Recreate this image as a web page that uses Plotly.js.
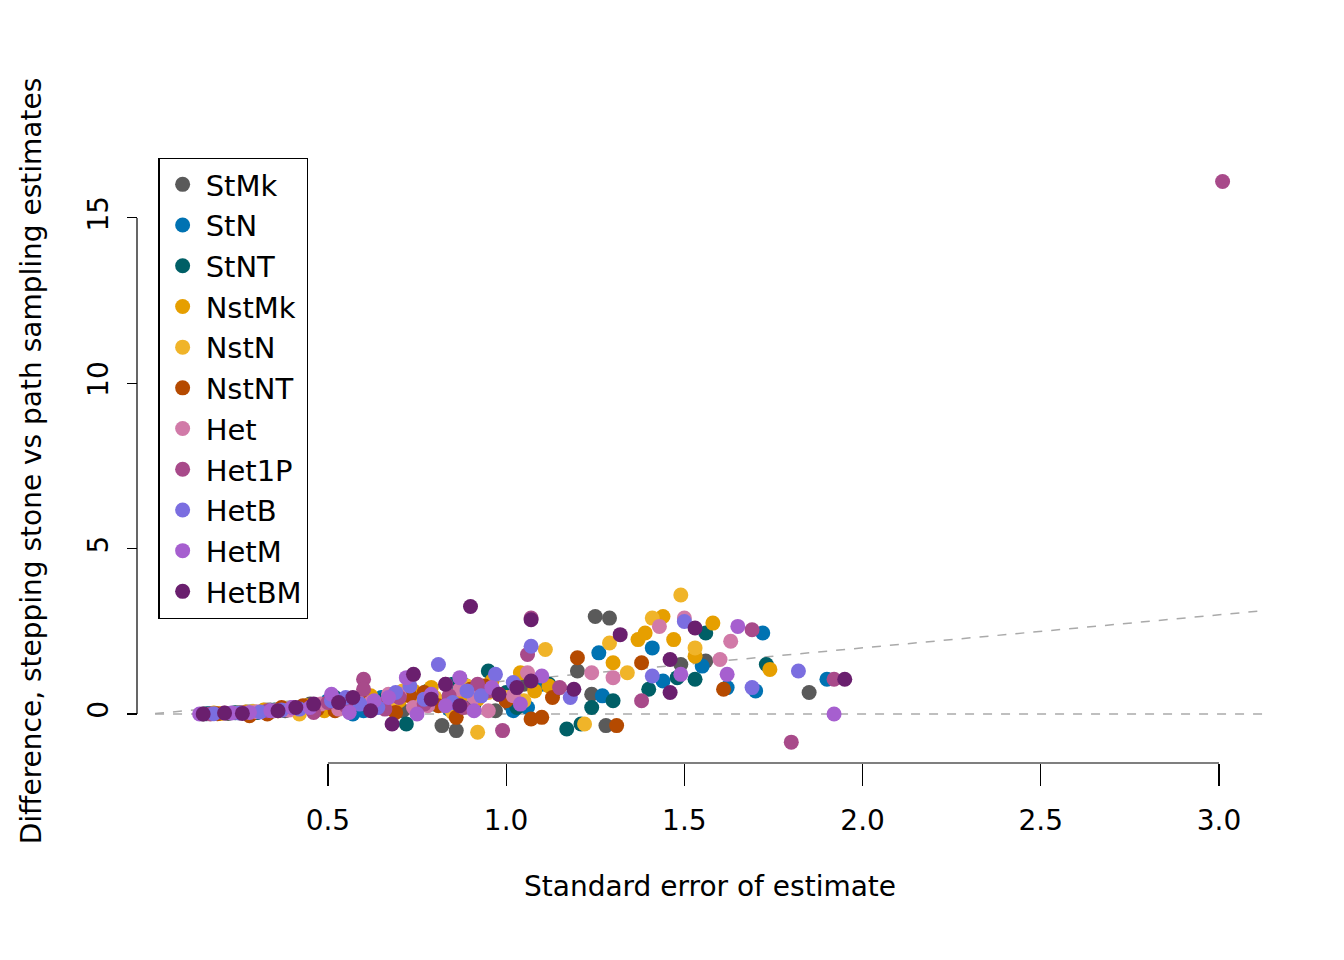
<!DOCTYPE html>
<html>
<head>
<meta charset="utf-8">
<script src="https://cdn.plot.ly/plotly-3.0.1.min.js"></script>
<style>body{margin:0;background:#fff}#plot{width:1344px;height:960px}</style>
</head>
<body>
<div id="plot"></div>
<script>
// model names and colours
const models = ['StMk', 'StN', 'StNT', 'NstMk', 'NstN', 'NstNT', 'Het', 'Het1P', 'HetB', 'HetM', 'HetBM'];
const colors = ['#5a5a5a', '#0072b2', '#005f66', '#e69f00', '#f0b429', '#b54a00', '#d17aa8', '#a84a8a', '#7b6ee0', '#a65fcf', '#6a1f6e'];

// standard error (x) and difference (y) per model
const seX = [
  [0.15, 0.22, 0.3, 0.38, 0.45, 0.52, 0.6, 0.68, 0.75, 0.82, 0.86, 0.9, 0.97, 1.05, 1.2, 1.24, 1.25, 1.28, 1.29, 1.49, 1.56, 1.85, 0.34, 0.48, 0.63, 0.71, 0.79, 0.93, 1.01, 1.14],
  [0.17, 0.25, 0.33, 0.41, 0.5, 0.57, 0.65, 0.72, 0.8, 0.88, 0.93, 1.02, 1.1, 1.26, 1.27, 1.41, 1.44, 1.55, 1.62, 1.7, 1.72, 1.9, 0.29, 0.45, 0.6, 0.76, 0.84, 0.98, 1.06],
  [0.16, 0.24, 0.35, 0.43, 0.52, 0.6, 0.66, 0.72, 0.78, 0.85, 0.95, 1.03, 1.12, 1.17, 1.21, 1.24, 1.3, 1.4, 1.48, 1.53, 1.56, 1.73, 0.3, 0.48, 0.56, 0.69, 0.82, 0.91, 1.0],
  [0.18, 0.27, 0.36, 0.44, 0.53, 0.62, 0.7, 0.79, 0.88, 0.96, 1.04, 1.08, 1.3, 1.37, 1.39, 1.44, 1.47, 1.53, 1.58, 1.74, 0.32, 0.49, 0.66, 0.74, 0.84, 0.92, 1.12],
  [0.2, 0.29, 0.38, 0.46, 0.55, 0.63, 0.71, 0.8, 0.89, 0.92, 1.0, 1.11, 1.22, 1.29, 1.34, 1.41, 1.49, 1.53, 0.25, 0.42, 0.59, 0.68, 0.76, 0.85, 0.95, 1.05],
  [0.19, 0.28, 0.37, 0.47, 0.56, 0.64, 0.73, 0.81, 0.9, 0.98, 1.0, 1.07, 1.1, 1.13, 1.2, 1.31, 1.38, 1.61, 0.33, 0.43, 0.52, 0.6, 0.69, 0.77, 0.86, 0.94],
  [0.21, 0.3, 0.39, 0.48, 0.58, 0.67, 0.74, 0.83, 0.91, 0.95, 1.06, 1.24, 1.3, 1.43, 1.5, 1.6, 1.63, 0.35, 0.53, 0.62, 0.7, 0.78, 0.87, 1.02],
  [0.17, 0.26, 0.4, 0.5, 0.6, 0.6, 0.7, 0.84, 0.92, 0.99, 1.06, 1.07, 1.15, 1.38, 1.69, 1.8, 1.92, 3.01, 0.33, 0.46, 0.55, 0.66, 0.77, 0.88, 0.95],
  [0.18, 0.31, 0.42, 0.51, 0.59, 0.69, 0.77, 0.81, 0.89, 0.97, 1.07, 1.18, 1.41, 1.5, 1.69, 1.82, 0.25, 0.37, 0.55, 0.64, 0.73, 0.85, 0.93, 1.02],
  [0.14, 0.23, 0.34, 0.45, 0.51, 0.63, 0.72, 0.79, 0.87, 0.96, 1.04, 1.1, 1.49, 1.62, 1.65, 1.92, 0.28, 0.4, 0.56, 0.67, 0.75, 0.83, 0.91],
  [0.15, 0.26, 0.36, 0.46, 0.57, 0.68, 0.74, 0.83, 0.9, 0.98, 1.07, 1.07, 1.19, 1.32, 1.46, 1.46, 1.53, 1.95, 0.21, 0.41, 0.53, 0.62, 0.79, 0.87, 1.03]
];
const diffY = [
  [0.0, 0.02, 0.05, 0.1, 0.3, 0.4, 0.2, 0.5, 0.6, -0.35, -0.5, 0.7, 0.1, 0.9, 1.3, 0.6, 2.95, -0.35, 2.9, 1.5, 1.6, 0.65, 0.08, 0.15, 0.35, 0.1, 0.45, 0.85, 0.3, 0.75],
  [0.02, 0.05, 0.1, 0.15, 0.4, 0.0, 0.5, 0.6, 0.3, 0.9, 0.8, 0.1, 0.9, 1.85, 0.55, 2.0, 1.0, 1.45, 0.8, 0.7, 2.45, 1.05, 0.06, 0.2, 0.1, 0.4, 0.15, 0.6, 0.2],
  [0.01, 0.04, 0.12, 0.2, 0.5, 0.3, 0.45, -0.3, 0.7, 0.9, 1.3, 0.2, 0.9, -0.45, -0.3, 0.2, 0.4, 0.75, 1.1, 1.05, 2.45, 1.5, 0.05, 0.25, 0.1, 0.55, 0.35, 0.3, 0.65],
  [0.03, 0.06, 0.1, 0.25, 0.2, 0.55, 0.4, 0.8, 0.6, 1.0, 1.25, 0.7, 1.55, 2.25, 2.45, 2.95, 2.25, 1.75, 2.75, 1.35, 0.12, 0.1, 0.3, 0.7, 0.2, 0.45, 0.85],
  [0.02, 0.08, 0.15, 0.1, 0.35, 0.25, 0.7, 0.5, 0.85, -0.55, 0.5, 1.95, -0.3, 2.15, 1.25, 2.9, 3.6, 2.0, 0.04, 0.0, 0.45, 0.15, 0.3, 0.05, 0.65, 0.4],
  [0.01, -0.05, 0.2, 0.15, 0.45, 0.3, 0.55, 0.25, 0.75, 0.6, 0.4, -0.15, -0.1, 0.5, 1.7, -0.35, 1.55, 0.75, 0.0, 0.25, 0.1, 0.35, 0.05, 0.65, -0.1, 0.85],
  [0.03, 0.07, 0.12, 0.3, 0.45, 0.6, 0.2, 0.9, 0.5, 0.1, 1.25, 1.25, 1.1, 2.65, 2.9, 1.65, 2.2, 0.1, 0.15, 0.35, 0.6, 0.25, 0.75, 0.55],
  [0.0, 0.04, 0.2, 0.35, 1.05, 0.75, 0.5, 0.55, 0.9, -0.5, 1.8, 2.9, 0.8, 0.4, 2.55, -0.85, 1.05, 16.1, 0.1, 0.05, 0.25, 0.15, 0.3, 0.2, 0.7],
  [0.01, 0.06, 0.15, 0.4, 0.3, 0.65, 0.45, 1.5, 0.7, 1.2, 2.05, 0.5, 1.15, 2.8, 0.8, 1.3, 0.03, 0.12, 0.5, 0.2, 0.85, 0.35, 0.55, 0.95],
  [0.0, 0.03, 0.1, 0.2, 0.6, 0.4, 1.1, 0.6, 1.1, 0.8, 0.3, 1.15, 1.2, 1.2, 2.65, 0.0, 0.05, 0.2, 0.05, 0.5, 0.0, 0.25, 0.1],
  [0.0, 0.02, 0.1, 0.3, 0.5, -0.3, 1.2, 0.9, 3.25, 0.6, 2.85, 1.0, 0.75, 2.4, 1.65, 0.65, 2.6, 1.05, 0.03, 0.2, 0.35, 0.1, 0.45, 0.25, 0.8]
];

const font = 'DejaVu Sans, Liberation Sans, sans-serif';
const data = models.map((m, i) => ({
  x: seX[i],
  y: diffY[i],
  name: m,
  type: 'scatter',
  mode: 'markers',
  marker: { color: colors[i], size: 15 },
  cliponaxis: false
}));

const layout = {
  width: 1344,
  height: 960,
  paper_bgcolor: '#fff',
  plot_bgcolor: '#fff',
  font: { family: font, size: 28, color: '#000' },
  margin: { l: 137, r: 79, t: 159, b: 197 },
  showlegend: true,
  legend: {
    x: 0.019, y: 1.002, xanchor: 'left', yanchor: 'top',
    bordercolor: '#000', borderwidth: 1.2, bgcolor: '#fff',
    font: { size: 29, family: font },
    tracegroupgap: 0, itemwidth: 36
  },
  xaxis: {
    domain: [0.016, 1],
    range: [0.015, 3.129],
    tickvals: [0.5, 1.0, 1.5, 2.0, 2.5, 3.0],
    ticktext: ['0.5', '1.0', '1.5', '2.0', '2.5', '3.0'],
    ticks: 'outside', ticklen: 22, tickcolor: '#000', tickwidth: 1.2,
    ticklabelstandoff: 10,
    showgrid: false, zeroline: false, showline: false,
    tickfont: { size: 28 },
    title: { text: 'Standard error of estimate', font: { size: 28 }, standoff: 40 }
  },
  yaxis: {
    anchor: 'free', position: 0,
    range: [-1.48, 16.78],
    tickvals: [0, 5, 10, 15],
    ticks: 'outside', ticklen: 10, tickcolor: '#000', tickwidth: 1.2,
    ticklabelstandoff: 8,
    tickangle: -90,
    showgrid: false, zeroline: false, showline: false,
    tickfont: { size: 28 },
    title: { text: 'Difference, stepping stone vs path sampling estimates', font: { size: 28 }, standoff: 30 }
  },
  shapes: [
    { type: 'line', xref: 'x', yref: 'paper', x0: 0.5, x1: 3.0, y0: 0, y1: 0, line: { color: '#000', width: 1.2 } },
    { type: 'line', xref: 'paper', yref: 'y', x0: 0, x1: 0, y0: 0, y1: 15, line: { color: '#000', width: 1.2 } },
    { type: 'line', xref: 'x', yref: 'y', x0: 0.015, x1: 3.129, y0: 0, y1: 0, layer: 'below', line: { color: '#aaa', width: 1.5, dash: 'dash' } },
    { type: 'line', xref: 'x', yref: 'y', x0: 0.015, x1: 3.129, y0: 0.015, y1: 3.129, layer: 'below', line: { color: '#aaa', width: 1.5, dash: 'dash' } }
  ]
};

Plotly.newPlot('plot', data, layout, { staticPlot: true });
</script>
</body>
</html>
